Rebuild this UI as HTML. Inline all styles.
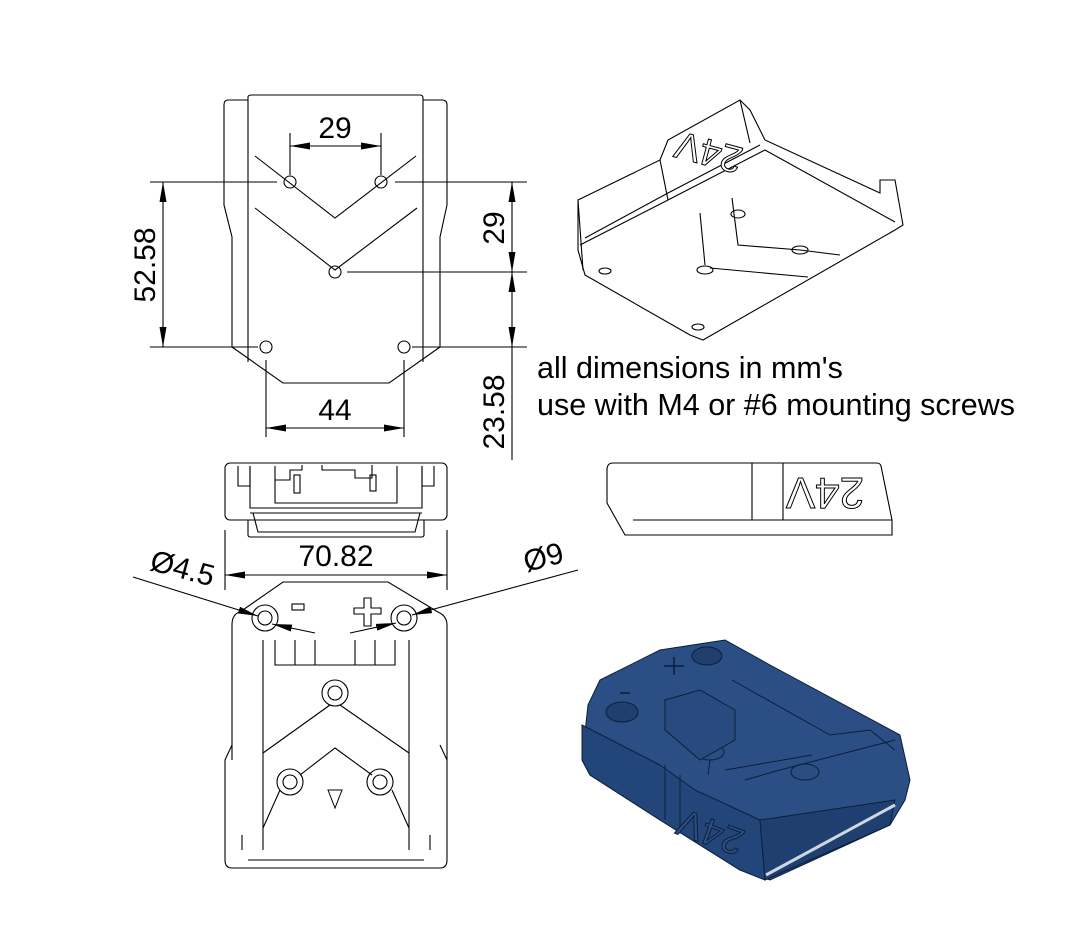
<!DOCTYPE html>
<html><head><meta charset="utf-8"><style>
html,body{margin:0;padding:0;background:#fff;}
svg{display:block;font-family:"Liberation Sans",sans-serif;}
</style></head><body>
<svg width="1081" height="947" viewBox="0 0 1081 947" xmlns="http://www.w3.org/2000/svg">
<defs>
<marker id="a" viewBox="0 0 20 7" refX="20" refY="3.5" markerWidth="20" markerHeight="7" markerUnits="userSpaceOnUse" orient="auto-start-reverse"><path d="M0,0 L20,3.5 L0,7 z" fill="#000"/></marker>
</defs>
<g fill="none" stroke="#000" stroke-width="1.1">
<path d="M248,362 V97 Q248,95 252,95 H420 Q423,95 423,98 V362"/>
<path d="M248,100 H228 Q224,100 224,105 V205 L232,237 V347"/>
<path d="M423,100 H442 Q447,100 447,105 V205 L440,237 V347"/>
<path d="M232,347 L283,383 H389 L440,347"/>
<path d="M255,156 L335,218 L416,156"/>
<path d="M255,208 L335,270 L417,208"/>
<circle cx="290" cy="182" r="6"/><circle cx="381" cy="182" r="6"/><circle cx="335" cy="272" r="6"/>
<circle cx="266" cy="347" r="6"/><circle cx="404" cy="347" r="6"/>
<path d="M290,133 V175 M381,133 V175"/>
<path d="M290,146 H381" marker-start="url(#a)" marker-end="url(#a)"/>
<path d="M150,182 H277 M150,347 H258 M395,182 H527 M347,272 H527 M412,347 H527"/>
<path d="M163,182 V347" marker-start="url(#a)" marker-end="url(#a)"/>
<path d="M512,182 V272" marker-start="url(#a)" marker-end="url(#a)"/>
<path d="M512,272 V347" marker-start="url(#a)" marker-end="url(#a)"/>
<path d="M512,347 V460"/>
<path d="M266,360 V437 M404,360 V437"/>
<path d="M266,428 H404" marker-start="url(#a)" marker-end="url(#a)"/>

<rect x="225" y="463" width="222" height="57" rx="5"/>
<path d="M248,520 V535 Q248,537 251,537 H421 Q424,537 424,535 V520"/>
<path d="M238,466 V486 H250 V466 M434,466 V486 H422 V466"/>
<path d="M250,466 V508 H422 V466 M275,466 V503 H397 V466"/>
<path d="M250,513 H422 M253,513 L258,532 H415 L420,513 M258,520 H415"/>
<path d="M275,480 H290 V470 H302 V465 M322,465 V470 H355 V478 H372 V465"/>
<rect x="294" y="475" width="6" height="18"/><rect x="370" y="475" width="6" height="16"/>
<path d="M225,530 V590 M447,530 V590"/>
<path d="M225,575 H447" marker-start="url(#a)" marker-end="url(#a)"/>

<path d="M283,582 H388 L438,612 Q447,616 447,625 V860 Q447,868 440,868 H232 Q225,868 225,860 V760 L232,745 V625 Q232,614 240,612 Z"/>
<path d="M232,745 V760 M440,745 L447,760"/>
<path d="M263,640 V850 M409,640 V850"/>
<path d="M275,640 V665 H395 V640 M295,640 V665 M315,640 V665 M355,640 V665 M375,640 V665"/>
<path d="M263,753 L330,705 M340,705 L409,753"/>
<path d="M263,828 L280,790 M300,775 L335,748 L372,775 M392,790 L409,828"/>
<path d="M242,835 V850 M430,835 V850 M248,860 H424"/>
<circle cx="265" cy="618" r="13"/><circle cx="265" cy="618" r="7"/>
<circle cx="404" cy="618" r="13"/><circle cx="404" cy="618" r="7"/>
<circle cx="335" cy="693" r="13"/><circle cx="335" cy="693" r="7"/>
<circle cx="290" cy="782" r="13"/><circle cx="290" cy="782" r="7"/>
<circle cx="380" cy="782" r="13"/><circle cx="380" cy="782" r="7"/>
<rect x="292" y="604" width="12" height="6"/>
<path d="M364,598 H371 V608 H381 V614 H371 V626 H364 V614 H354 V608 H364 Z"/>
<path d="M328,790 L335,808 L342,790 Z" stroke-width="1"/>
<path d="M133,577 L258,616" marker-end="url(#a)"/>
<path d="M272,624 L315,633" marker-start="url(#a)"/>
<path d="M578,570 L412,615" marker-end="url(#a)"/>
<path d="M396,623 L350,633" marker-start="url(#a)"/>

<path d="M578,200 L660,160 L668,140 L740,100 L750,110 L765,140 L880,193 L880,180 L895,180 L903,225 L895,230 L703,340 L690,335 L585,275 L578,250 Z"/>
<path d="M578,200 L583,270 M580,245 L668,200 L765,150 L895,222"/>
<path d="M585,238 L668,193 L760,145 M660,160 L668,200 M740,100 L750,143"/>
<path d="M700,213 L705,265 M732,198 L738,245 L800,250 M710,268 L808,277 M800,250 L840,255"/>
<ellipse cx="605" cy="271" rx="6" ry="3"/><ellipse cx="705" cy="270" rx="8" ry="4"/>
<ellipse cx="738" cy="214" rx="7" ry="4"/><ellipse cx="800" cy="250" rx="8" ry="4"/>
<ellipse cx="698" cy="327" rx="6" ry="3"/>
<path d="M613,463 H877 Q880,463 881,466 L892,520 V535 H625 L607,503 V470 Q607,463 613,463 Z"/>
<path d="M752,463 V520 M783,463 V520 M633,520 H892"/>
</g>
<text x="0" y="0" transform="translate(712,140) rotate(195)" font-size="38" text-anchor="middle" fill="#fff" stroke="#000" stroke-width="1">24V</text>
<text x="0" y="0" transform="translate(825,478) rotate(180)" font-size="44" text-anchor="middle" fill="#fff" stroke="#000" stroke-width="1">24V</text>

<g stroke="#0c1e3a" stroke-width="1">
<path d="M588,705 L600,680 L660,650 L725,640 L770,665 L900,735 L910,780 L905,800 L890,825 L770,880 L740,870 L660,820 L590,775 L582,760 Z" fill="#2b4f85"/>
<path d="M582,725 L660,765 L695,790 L760,820 L765,880 L740,870 L660,820 L590,775 L582,760 Z" fill="#23467a"/>
<path d="M760,820 L765,880 L890,825 L895,800 Z" fill="#1f3f70"/>
<path d="M665,765 L665,820 M680,775 L680,830"/>
<ellipse cx="622" cy="712" rx="16" ry="10" fill="#213f6d"/>
<ellipse cx="707" cy="656" rx="15" ry="9" fill="#213f6d"/>
<ellipse cx="710" cy="752" rx="14" ry="8" fill="#2a4d82"/>
<ellipse cx="805" cy="772" rx="14" ry="8" fill="#2a4d82"/>
<path d="M665,700 L700,690 L735,710 L735,740 L700,760 L665,730 Z" fill="#284a7e"/>
<path d="M725,770 L812,755 M745,780 L780,770 L895,740 M710,760 L708,775" fill="none"/>
<path d="M766,875 L895,805" stroke="#cfd6e0" stroke-width="3"/>
<path d="M732,680 L830,735 L870,730 L895,750" fill="none"/>
</g>
<text x="0" y="0" transform="translate(715,820) rotate(200)" font-size="38" text-anchor="middle" fill="#2b4f85" stroke="#0c1e3a" stroke-width="1">24V</text>
<path d="M664,666 H684 M674,657 V675 M620,693 H630" stroke="#0c1e3a" stroke-width="1.5" fill="none"/>

<g fill="#000" font-size="30">
<text x="335" y="138" text-anchor="middle">29</text>
<text x="335" y="420" text-anchor="middle">44</text>
<text transform="translate(155,265) rotate(-90)" text-anchor="middle">52.58</text>
<text transform="translate(504,228) rotate(-90)" text-anchor="middle">29</text>
<text transform="translate(504,412) rotate(-90)" text-anchor="middle">23.58</text>
<text x="336" y="566" text-anchor="middle">70.82</text>
<text transform="translate(180,578) rotate(15)" text-anchor="middle">Ø4.5</text>
<text transform="translate(546,567) rotate(-15)" text-anchor="middle">Ø9</text>
<text x="537" y="378" font-size="30.5">all dimensions in mm's</text>
<text x="537" y="415" font-size="30.5">use with M4 or #6 mounting screws</text>
</g>
</svg>
</body></html>
